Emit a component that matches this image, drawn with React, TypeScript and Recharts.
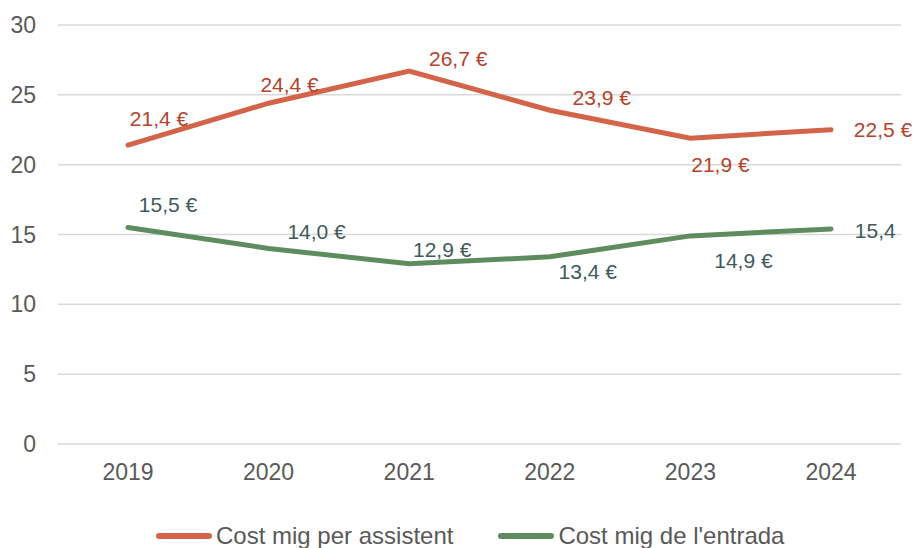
import { LineChart, Line, XAxis, YAxis, CartesianGrid, LabelList } from "recharts";

const years = ["2019", "2020", "2021", "2022", "2023", "2024"];
const perAssistent = [21.4, 24.4, 26.7, 23.9, 21.9, 22.5];
const perEntrada = [15.5, 14.0, 12.9, 13.4, 14.9, 15.4];
const yTicks = [0, 5, 10, 15, 20, 25, 30];
const seriesNames = ["Cost mig per assistent", "Cost mig de l'entrada"];

const RED = "#D3644A";
const RED_TEXT = "#B3432D";
const GREEN = "#5E8C5F";
const GREEN_TEXT = "#3E5A5C";
const FONT = "'Liberation Sans', Arial, sans-serif";

const W = 915;
const H = 548;
const PLOT_RIGHT = W - 14;

// label offsets from the point (label centre), per point
const redOffsets = [[31, -27], [21, -19], [49, -13], [52, -13], [30, 26], [52, 0]];
const greenOffsets = [[40, -23], [48, -17], [33, -14], [38, 15], [53, 25], [53, 2]];

const data = years.map((year, i) => ({
  year,
  assistent: perAssistent[i],
  entrada: perEntrada[i],
}));

const fmt = (v: number) => v.toFixed(1).replace(".", ",") + " €";

function makeLabel(offsets: number[][], color: string, id: string) {
  return (props: any) => {
    const { x, y, value, index } = props;
    const [dx, dy] = offsets[index];
    return (
      <g>
        <defs>
          <clipPath id={`${id}-${index}`}>
            <rect x={0} y={0} width={PLOT_RIGHT} height={H} />
          </clipPath>
        </defs>
        <text
          x={x + dx}
          y={y + dy}
          textAnchor="middle"
          dominantBaseline="central"
          fill={color}
          fontSize={21}
          fontFamily={FONT}
          clipPath={id === "g" ? `url(#${id}-${index})` : undefined}
        >
          {fmt(value)}
        </text>
      </g>
    );
  };
}

export default function App() {
  const tick = { fill: "#595959", fontSize: 23, fontFamily: FONT };
  return (
    <div
      style={{
        position: "fixed",
        top: 0,
        left: 0,
        width: W,
        height: H,
        background: "#fff",
        fontFamily: FONT,
        overflow: "hidden",
      }}
    >
      <LineChart width={W} height={H} data={data} margin={{ top: 25, right: 14, bottom: 64, left: 0 }}>
        <CartesianGrid vertical={false} stroke="#D9D9D9" strokeWidth={1.5} />
        <XAxis
          dataKey="year"
          axisLine={false}
          tickLine={false}
          tick={tick}
          tickMargin={14}
          height={40}
          padding={{ left: 70, right: 70 }}
        />
        <YAxis
          domain={[0, 30]}
          ticks={yTicks}
          axisLine={false}
          tickLine={false}
          tick={tick}
          tickMargin={16}
          width={58}
        />
        <Line
          type="linear"
          dataKey="assistent"
          stroke={RED}
          strokeWidth={5}
          dot={false}
          isAnimationActive={false}
          strokeLinecap="round"
        >
          <LabelList dataKey="assistent" content={makeLabel(redOffsets, RED_TEXT, "r")} />
        </Line>
        <Line
          type="linear"
          dataKey="entrada"
          stroke={GREEN}
          strokeWidth={5}
          dot={false}
          isAnimationActive={false}
          strokeLinecap="round"
        >
          <LabelList dataKey="entrada" content={makeLabel(greenOffsets, GREEN_TEXT, "g")} />
        </Line>
      </LineChart>
      <div
        style={{
          position: "absolute",
          top: 525,
          left: 156,
          display: "flex",
          alignItems: "center",
          fontSize: 24,
          lineHeight: "22px",
          color: "#595959",
          whiteSpace: "nowrap",
        }}
      >
        {seriesNames.map((name, i) => (
          <div key={name} style={{ display: "flex", alignItems: "center", marginRight: i === 0 ? 45 : 0 }}>
            <span
              style={{
                display: "inline-block",
                width: 56,
                height: 6,
                borderRadius: 3,
                background: i === 0 ? RED : GREEN,
                marginRight: 4,
              }}
            />
            <span>{name}</span>
          </div>
        ))}
      </div>
    </div>
  );
}
